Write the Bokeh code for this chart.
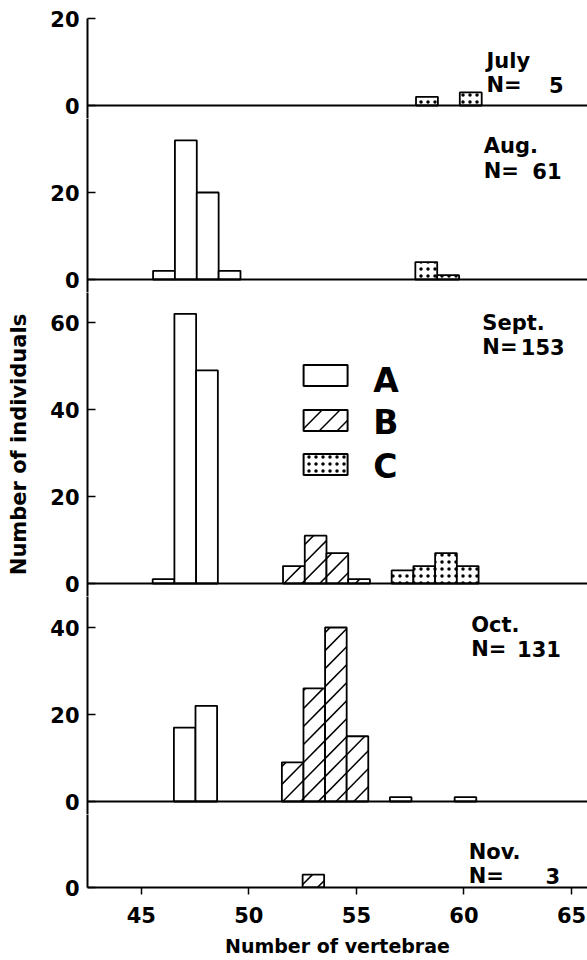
import math
from bokeh.plotting import figure
from bokeh.models import Range1d, FixedTicker, Span, Label, ColumnDataSource
from bokeh.layouts import row, column
from bokeh.embed import file_html
from bokeh.resources import INLINE

# ---------------- data ----------------
months = ["July", "Aug.", "Sept.", "Oct.", "Nov."]
n_totals = ["5", "61", "153", "131", "3"]
legend_classes = ["A", "B", "C"]
x_ticks = [45, 50, 55, 60, 65]
y_ticks = [[0, 20], [0, 20], [0, 20, 40, 60], [0, 20, 40], [0]]

jul_C_x = [58, 60]
jul_C_n = [2, 3]

aug_A_x = [46, 47, 48, 49]
aug_A_n = [2, 32, 20, 2]
aug_C_x = [58, 59]
aug_C_n = [4, 1]

sep_A_x = [46, 47, 48]
sep_A_n = [1, 62, 49]
sep_B_x = [52, 53, 54, 55]
sep_B_n = [4, 11, 7, 1]
sep_C_x = [57, 58, 59, 60]
sep_C_n = [3, 4, 7, 4]

oct_A_x = [47, 48]
oct_A_n = [17, 22]
oct_B_x = [52, 53, 54, 55]
oct_B_n = [9, 26, 40, 15]
oct_C_x = [57, 60]
oct_C_n = [1, 1]

nov_B_x = [53]
nov_B_n = [3]

panels = [
    [("C", jul_C_x, jul_C_n)],
    [("A", aug_A_x, aug_A_n), ("C", aug_C_x, aug_C_n)],
    [("A", sep_A_x, sep_A_n), ("B", sep_B_x, sep_B_n), ("C", sep_C_x, sep_C_n)],
    [("A", oct_A_x, oct_A_n), ("B", oct_B_x, oct_B_n), ("C", oct_C_x, oct_C_n)],
    [("B", nov_B_x, nov_B_n)],
]

# ---------------- layout / style ----------------
FONT = "DejaVu Sans"
PPX = 21.9        # px per vertebra
PPY = 4.35        # px per individual
X0 = 42.5
TITLE_W = 32
MAIN_W = 555
LEFT_BASE = 78                      # page x of the lowest y-axis
offsets = [9, 8, 5, 2, 0]           # scan is slightly rotated
tops = [18, 118, 292, 596, 814]     # page y of frame tops
bases = [105, 279, 583, 801, 888]   # page y of zero lines
bottoms = [118, 292, 596, 814, 888]
TOP_BORDER = 18
NOV_BOTTOM = 71
TOTAL_H = TOP_BORDER + (bottoms[-1] - tops[0]) + NOV_BOTTOM

HATCH_SLOPE = PPX / PPY      # 45 degrees on screen
HATCH_STEP = 18 / PPY        # 18 px vertical spacing

dots = dict(hatch_pattern="dot", hatch_scale=7, hatch_weight=1.0, hatch_color="black")

# page positions of the month texts: (name_x, name_y, n_y, n_right)
month_pos = [
    (486, 60, 84, 563),
    (483, 145, 170, 561),
    (481, 322, 346, 564),
    (469, 624, 648, 560),
    (466, 852, 876, 559),
]


def px_to_x(px, off):
    return X0 + (px - (LEFT_BASE + off)) / PPX


def py_to_y(py, base):
    return (base - py) / PPY


def hatch_lines(xl, xr, yb, yt, phase=0.0):
    """45-degree hatch segments clipped to a rectangle (data units)."""
    out = []
    m, d = HATCH_SLOPE, HATCH_STEP
    jmin = math.floor((yb - m * (xr - X0) - phase) / d) - 1
    jmax = math.ceil((yt - m * (xl - X0) - phase) / d) + 1
    for j in range(jmin, jmax + 1):
        c = j * d + phase - m * X0
        xa = max(xl, (yb - c) / m)
        xb = min(xr, (yt - c) / m)
        if xb - xa > 1e-6:
            out.append((xa, m * xa + c, xb, m * xb + c))
    return out


def draw_hatch(p, segs):
    if not segs:
        return
    p.segment(x0=[s[0] for s in segs], y0=[s[1] for s in segs],
              x1=[s[2] for s in segs], y1=[s[3] for s in segs],
              line_color="black", line_width=1.5)


figs = []
for i in range(5):
    off = offsets[i]
    frame_left = LEFT_BASE + off
    mbl = frame_left - TITLE_W
    frame_w = MAIN_W - mbl
    x_end = X0 + frame_w / PPX
    mbt = TOP_BORDER if i == 0 else 0
    mbb = NOV_BOTTOM if i == 4 else 0
    h = mbt + (bottoms[i] - tops[i]) + mbb
    y_start = (bases[i] - bottoms[i]) / PPY
    y_end = (bases[i] - tops[i]) / PPY

    p = figure(width=MAIN_W, height=h,
               x_range=Range1d(X0, x_end), y_range=Range1d(y_start, y_end),
               output_backend="svg", toolbar_location=None,
               x_axis_location="below" if i == 4 else None,
               y_axis_location="left",
               min_border_left=mbl, min_border_right=0,
               min_border_top=mbt, min_border_bottom=mbb)
    p.outline_line_color = None
    p.grid.visible = False

    ya = p.yaxis[0]
    ya.ticker = FixedTicker(ticks=y_ticks[i])
    ya.major_tick_in = 8
    ya.major_tick_out = 0
    ya.minor_tick_line_color = None
    ya.axis_line_width = 2
    ya.axis_line_color = "black"
    ya.major_tick_line_width = 1.5
    ya.major_tick_line_color = "black"
    ya.major_label_text_font = FONT
    ya.major_label_text_font_style = "bold"
    ya.major_label_text_font_size = "21px"
    ya.major_label_text_color = "black"
    ya.major_label_standoff = 8

    if i < 4:
        p.add_layout(Span(location=0, dimension="width", line_color="black", line_width=2))
    else:
        xa = p.xaxis[0]
        xa.ticker = FixedTicker(ticks=x_ticks)
        xa.major_tick_in = 0
        xa.major_tick_out = 7
        xa.minor_tick_line_color = None
        xa.axis_line_width = 2
        xa.axis_line_color = "black"
        xa.major_tick_line_width = 1.5
        xa.major_tick_line_color = "black"
        xa.major_label_text_font = FONT
        xa.major_label_text_font_style = "bold"
        xa.major_label_text_font_size = "21px"
        xa.major_label_text_color = "black"
        xa.major_label_standoff = 12
        xa.axis_label = "Number of vertebrae"
        xa.axis_label_text_font = FONT
        xa.axis_label_text_font_style = "bold"
        xa.axis_label_text_font_size = "19px"
        xa.axis_label_text_color = "black"
        xa.axis_label_standoff = 9

    for cls, xs, ns in panels[i]:
        src = ColumnDataSource(dict(x=xs, top=ns))
        extra = dots if cls == "C" else {}
        p.vbar(x="x", top="top", bottom=0, width=1, source=src,
               fill_color="white", line_color="black", line_width=1.8, **extra)
        if cls == "B":
            segs = []
            for xv, nv in zip(xs, ns):
                segs += hatch_lines(xv - 0.5, xv + 0.5, 0, nv)
            draw_hatch(p, segs)

    nx, ny, nny, nr = month_pos[i]
    common = dict(text_font=FONT, text_font_style="bold", text_font_size="21px",
                  text_color="black", text_baseline="middle")
    p.add_layout(Label(x=px_to_x(nx, off), y=py_to_y(ny, bases[i]), text=months[i],
                       text_align="left", **common))
    p.add_layout(Label(x=px_to_x(nx, off), y=py_to_y(nny, bases[i]), text="N=",
                       text_align="left", **common))
    p.add_layout(Label(x=px_to_x(nr, off), y=py_to_y(nny, bases[i]), text=n_totals[i],
                       text_align="right", **common))

    if i == 2:
        box_px = 323
        letter_px = 371
        box_py = [375, 420, 464]
        letter_py = [380, 422, 466]
        bw, bh = 44, 21
        for k, cls in enumerate(legend_classes):
            cx = px_to_x(box_px, off)
            cy = py_to_y(box_py[k], bases[i])
            extra = dots if cls == "C" else {}
            p.rect(x=[cx], y=[cy], width=bw, height=bh,
                   width_units="screen", height_units="screen",
                   fill_color="white", line_color="black", line_width=2, **extra)
            if cls == "B":
                hw, hh = bw / 2 / PPX, bh / 2 / PPY
                segs = hatch_lines(cx - hw, cx + hw, cy - hh, cy + hh, phase=HATCH_STEP * 0.5)
                draw_hatch(p, segs)
            p.add_layout(Label(x=px_to_x(letter_px, off), y=py_to_y(letter_py[k], bases[i]),
                               text=cls, text_align="left", text_baseline="middle",
                               text_font=FONT, text_font_style="bold",
                               text_font_size="33px", text_color="black"))
    figs.append(p)

# y-axis title in its own narrow strip
tf = figure(width=TITLE_W, height=TOTAL_H, x_range=Range1d(0, TITLE_W),
            y_range=Range1d(0, TOTAL_H), x_axis_location=None, y_axis_location=None,
            output_backend="svg", toolbar_location=None, min_border=0)
tf.outline_line_color = None
tf.grid.visible = False
tf.add_layout(Label(x=18, y=TOTAL_H - 444, text="Number of individuals",
                    angle=math.pi / 2, text_align="center", text_baseline="middle",
                    text_font=FONT, text_font_style="bold", text_font_size="21px",
                    text_color="black"))

layout = row(tf, column(*figs, spacing=0), spacing=0)
open("out.html", "w").write(file_html(layout, INLINE))
